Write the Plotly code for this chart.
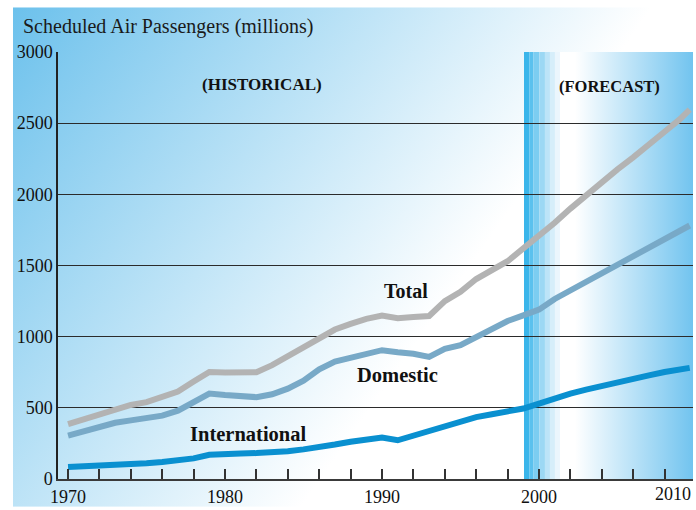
import base64
import plotly.graph_objects as go

# ---------------- data ----------------
years = [1970, 1971, 1972, 1973, 1974, 1975, 1976, 1977, 1978, 1979,
         1980, 1981, 1982, 1983, 1984, 1985, 1986, 1987, 1988, 1989,
         1990, 1991, 1992, 1993, 1994, 1995, 1996, 1997, 1998, 1999,
         2000, 2001, 2002, 2003, 2004, 2005, 2006, 2007, 2008, 2009, 2009.6]

total = [385, 420, 460, 495, 520, 540, 575, 615, 685, 752,
         748, 745, 750, 800, 860, 925, 988, 1050, 1090, 1125,
         1148, 1130, 1138, 1145, 1250, 1315, 1405, 1465, 1530, 1620,
         1705, 1800, 1900, 1995, 2090, 2175, 2260, 2345, 2440, 2530, 2595]

domestic = [305, 335, 365, 395, 412, 425, 445, 480, 545, 600,
            590, 582, 575, 595, 635, 690, 770, 825, 850, 878,
            905, 890, 880, 858, 915, 940, 1000, 1055, 1110, 1150,
            1190, 1265, 1325, 1385, 1445, 1500, 1560, 1620, 1680, 1740, 1781]

international = [84, 88, 92, 97, 103, 110, 119, 130, 145, 170,
                 178, 180, 182, 185, 195, 208, 222, 242, 262, 282,
                 292, 272, 305, 335, 365, 400, 435, 455, 475, 495,
                 530, 570, 600, 628, 655, 680, 705, 728, 752, 768, 781]

x_tick_vals = list(range(1970, 2010, 2))
x_tick_text = [str(v) if v % 10 == 0 else "" for v in x_tick_vals]
y_tick_vals = [0, 500, 1000, 1500, 2000, 2500, 3000]

title_text = "Scheduled Air Passengers (millions)"
series_labels = ["Total", "Domestic", "International"]

# ---------------- styling ----------------
SERIF = "Liberation Serif, Times New Roman, serif"
X_RANGE = [1969.36, 2009.81]
FORECAST_START = 1999.04

W, H = 696, 510
M_L, M_R, M_T, M_B = 58, 3, 52, 28
PW, PH = W - M_L - M_R, H - M_T - M_B


def svg_uri(svg):
    return "data:image/svg+xml;base64," + base64.b64encode(svg.encode()).decode()


# page background: diagonal blue -> white gradient
bg_w, bg_h = W - 13, H - 7
bg_svg = f'''<svg xmlns="http://www.w3.org/2000/svg" width="{bg_w}" height="{bg_h}" viewBox="0 0 {bg_w} {bg_h}" preserveAspectRatio="none">
<defs><linearGradient id="g" gradientUnits="userSpaceOnUse" x1="0" y1="0" x2="430" y2="300">
<stop offset="0" stop-color="#6cc1ec"/><stop offset="1" stop-color="#ffffff"/></linearGradient></defs>
<rect width="{bg_w}" height="{bg_h}" fill="url(#g)"/></svg>'''

# forecast band: stripes, white, gradient to blue
fw, fh = 169, 430
stripes = [(0, 5.3, "#3ab5ea"), (5.3, 9.3, "#5bc1ee"), (9.3, 15.3, "#7ccdf1"),
           (15.3, 21, "#9cd8f4"), (21, 26, "#bce4f8"), (26, 31, "#d6eefa"),
           (31, 36, "#ebf6fd")]
stripe_svg = "".join(
    f'<rect x="{a}" y="0" width="{b - a}" height="{fh}" fill="{c}"/>' for a, b, c in stripes)
fc_svg = f'''<svg xmlns="http://www.w3.org/2000/svg" width="{fw}" height="{fh}" viewBox="0 0 {fw} {fh}" preserveAspectRatio="none">
<defs><linearGradient id="f" x1="0" y1="0" x2="1" y2="0">
<stop offset="0" stop-color="#ffffff"/><stop offset="1" stop-color="#72c4ef"/></linearGradient></defs>
<rect width="{fw}" height="{fh}" fill="#ffffff"/>{stripe_svg}
<rect x="51" y="0" width="{fw - 51}" height="{fh}" fill="url(#f)"/></svg>'''

fig = go.Figure()

line_colors = {"Total": "#b3b3b3", "Domestic": "#78a9c7", "International": "#0a90d0"}
for name, vals in zip(series_labels, [total, domestic, international]):
    fig.add_trace(go.Scatter(
        x=years, y=vals, mode="lines", name=name,
        line=dict(color=line_colors[name], width=6, shape="linear"),
        hoverinfo="x+y+name", showlegend=False))

fig.update_layout(
    width=W, height=H,
    margin=dict(l=M_L, r=M_R, t=M_T, b=M_B, pad=0),
    paper_bgcolor="white", plot_bgcolor="rgba(0,0,0,0)",
    font=dict(family=SERIF, size=18, color="#111111"),
    showlegend=False,
    images=[
        dict(source=svg_uri(bg_svg), xref="paper", yref="paper",
             x=(13 - M_L) / PW, y=(H - M_B - 7) / PH,
             sizex=bg_w / PW, sizey=bg_h / PH,
             xanchor="left", yanchor="top", sizing="stretch", layer="below"),
        dict(source=svg_uri(fc_svg), xref="x", yref="y",
             x=FORECAST_START, y=3000, sizex=X_RANGE[1] - FORECAST_START, sizey=3000,
             xanchor="left", yanchor="top", sizing="stretch", layer="below"),
    ],
)

fig.update_xaxes(
    range=X_RANGE, showgrid=False, zeroline=False,
    showline=True, linecolor="#3a3a3a", linewidth=2,
    ticks="inside", ticklen=10, tickwidth=1.5, tickcolor="#333333",
    tickvals=x_tick_vals, ticktext=x_tick_text,
    tickfont=dict(family=SERIF, size=18, color="#111111"),
    fixedrange=True)

fig.update_yaxes(
    range=[0, 3000], showgrid=True, gridcolor="#2b2b2b", gridwidth=1,
    zeroline=False, showline=True, linecolor="#222222", linewidth=1.5,
    ticks="", tickvals=y_tick_vals, ticktext=[str(v) for v in y_tick_vals],
    tickfont=dict(family=SERIF, size=18, color="#111111"),
    fixedrange=True)

annots = [
    dict(text=title_text, xref="paper", yref="paper",
         x=(21 - M_L) / PW, y=(H - M_B - 26) / PH, xanchor="left", yanchor="middle",
         font=dict(family=SERIF, size=20, color="#1a1a1a")),
    dict(text="2010", xref="paper", yref="paper", x=1.0, y=0, yshift=-15,
         xanchor="right", yanchor="middle",
         font=dict(family=SERIF, size=18, color="#111111")),
    dict(text="<b>(HISTORICAL)</b>", xref="x", yref="y", x=1982.36, y=2770,
         font=dict(family=SERIF, size=17, color="#111111")),
    dict(text="<b>(FORECAST)</b>", xref="x", yref="y", x=2004.52, y=2756,
         font=dict(family=SERIF, size=16.5, color="#111111")),
    dict(text="<b>Total</b>", xref="x", yref="y", x=1991.53, y=1319,
         font=dict(family=SERIF, size=20, color="#111111")),
    dict(text="<b>Domestic</b>", xref="x", yref="y", x=1990.96, y=733,
         font=dict(family=SERIF, size=20.5, color="#111111")),
    dict(text="<b>International</b>", xref="x", yref="y", x=1981.46, y=314,
         font=dict(family=SERIF, size=20.5, color="#111111")),
]
for a in annots:
    a.setdefault("showarrow", False)
    a.setdefault("xanchor", "center")
    a.setdefault("yanchor", "middle")
    fig.add_annotation(**a)

fig.write_html("out.html", config={"displayModeBar": False},
               post_script="document.body.style.margin='0';document.body.style.padding='0';")
